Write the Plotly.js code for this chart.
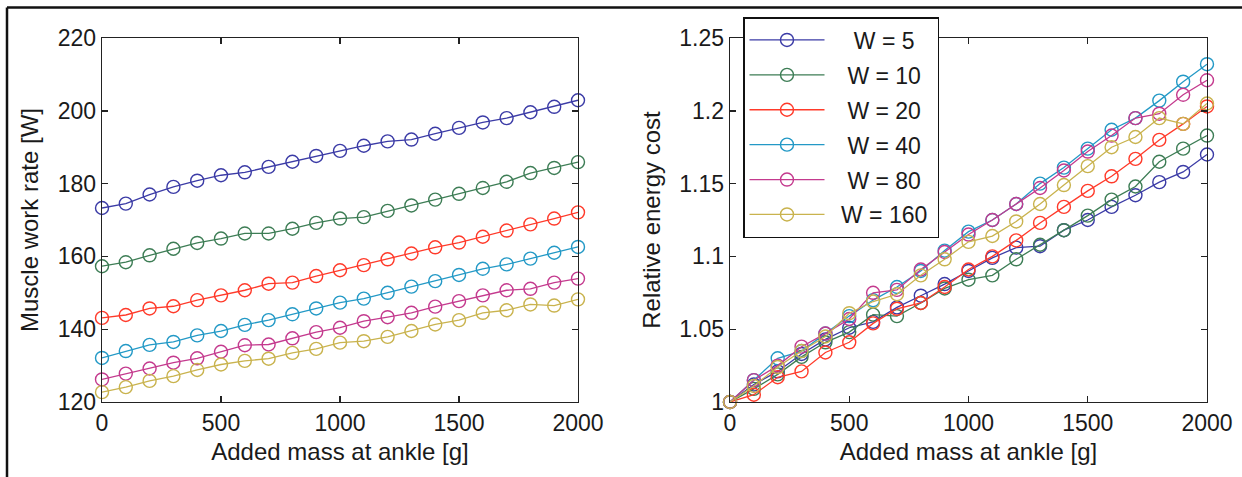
<!DOCTYPE html>
<html>
<head>
<meta charset="utf-8">
<script src="https://cdn.plot.ly/plotly-3.0.1.min.js"></script>
<style>
html,body{margin:0;padding:0;background:#fff;}
#chart{width:1242px;height:477px;}
</style>
</head>
<body>
<div id="chart"></div>
<script>
// ---- data ----
const addedMass = [0,100,200,300,400,500,600,700,800,900,1000,1100,1200,1300,1400,1500,1600,1700,1800,1900,2000];
const seriesNames = ['W = 5','W = 10','W = 20','W = 40','W = 80','W = 160'];
const legendLabels = ['\u2002\u2007W = 5\u2009','\u2002\u2008W = 10\u2009','\u2002\u2008W = 20\u2009','\u2002\u2008W = 40\u2009','\u2002\u2008W = 80\u2009','\u2002W = 160\u2009'];

// Muscle work rate [W]
const workW5   = [173.3,174.5,177.0,179.1,180.8,182.3,183.1,184.6,186.0,187.6,189.0,190.4,191.6,192.1,193.7,195.3,196.8,198.0,199.6,201.1,202.9];
const workW10  = [157.3,158.4,160.3,162.1,163.7,164.9,166.3,166.3,167.6,169.2,170.4,170.8,172.5,174.0,175.6,177.2,178.8,180.5,182.9,184.3,185.9];
const workW20  = [143.1,143.9,145.7,146.3,148.0,149.3,150.7,152.5,152.8,154.6,156.2,157.6,159.2,160.8,162.5,163.8,165.4,167.1,168.8,170.4,172.1];
const workW40  = [132.1,134.0,135.7,136.5,138.3,139.5,141.2,142.5,144.1,145.7,147.3,148.4,150.0,151.7,153.2,154.9,156.6,157.8,159.4,161.0,162.6];
const workW80  = [126.2,127.8,129.2,130.8,132.0,133.8,135.6,135.8,137.5,139.2,140.4,142.2,143.3,144.5,146.2,147.7,149.3,150.7,151.1,152.8,153.9];
const workW160 = [122.7,124.1,125.8,127.1,128.8,130.3,131.3,131.9,133.5,134.6,136.3,136.7,137.9,139.5,141.3,142.5,144.5,145.2,146.8,146.5,148.2];

// Relative energy cost
const costW5   = [1,1.012,1.021,1.033,1.043,1.051,1.055,1.065,1.073,1.081,1.090,1.099,1.106,1.107,1.118,1.125,1.134,1.142,1.151,1.158,1.170];
const costW10  = [1,1.009,1.019,1.031,1.041,1.048,1.060,1.059,1.068,1.078,1.084,1.087,1.098,1.108,1.118,1.128,1.139,1.148,1.165,1.174,1.183];
const costW20  = [1,1.005,1.017,1.021,1.034,1.041,1.054,1.064,1.068,1.079,1.091,1.100,1.111,1.123,1.134,1.145,1.155,1.167,1.180,1.191,1.203];
const costW40  = [1,1.015,1.030,1.035,1.047,1.059,1.070,1.079,1.090,1.104,1.117,1.125,1.136,1.150,1.161,1.174,1.187,1.195,1.207,1.220,1.232];
const costW80  = [1,1.015,1.025,1.038,1.047,1.057,1.075,1.077,1.091,1.103,1.115,1.125,1.136,1.147,1.159,1.172,1.183,1.195,1.198,1.211,1.221];
const costW160 = [1,1.011,1.024,1.035,1.045,1.061,1.069,1.074,1.087,1.098,1.110,1.114,1.124,1.136,1.149,1.162,1.175,1.182,1.195,1.191,1.205];

const workSeries = [workW5,workW10,workW20,workW40,workW80,workW160];
const costSeries = [costW5,costW10,costW20,costW40,costW80,costW160];
const colors = ['#3b3ba6','#3d7d55','#ff3a2a','#2399c6','#c43a8e','#c9b34e'];

// ---- traces ----
const traces = [];
workSeries.forEach((ys,i)=>{
  traces.push({
    x: addedMass, y: ys, xaxis:'x', yaxis:'y', type:'scatter', mode:'lines+markers',
    name: seriesNames[i], showlegend:false, cliponaxis:false,
    line:{color:colors[i], width:1.3},
    marker:{symbol:'circle-open', size:13, color:colors[i], line:{width:1.4, color:colors[i]}}
  });
});
costSeries.forEach((ys,i)=>{
  traces.push({
    x: addedMass, y: ys, xaxis:'x2', yaxis:'y2', type:'scatter', mode:'lines+markers',
    name: legendLabels[i], legendgroup:'g'+i, showlegend:true, cliponaxis:false,
    line:{color:colors[i], width:1.3},
    marker:{symbol:'circle-open', size:13, color:colors[i], line:{width:1.4, color:colors[i]}}
  });
});

const W = 1242, H = 477;
const font = {family:'"Liberation Sans", Arial, Helvetica, sans-serif', size:23, color:'#1a1a1a'};
const axisCommon = {
  showgrid:false, zeroline:false, showline:true, linecolor:'#222', linewidth:1.4,
  mirror:'ticks', ticks:'inside', ticklen:6, tickwidth:1.4, tickcolor:'#222',
  tickfont:{size:23}
};

const layout = {
  width:W, height:H,
  margin:{l:0,r:0,t:0,b:0},
  paper_bgcolor:'#fff', plot_bgcolor:'#fff',
  font: font,
  showlegend:true,
  xaxis: Object.assign({}, axisCommon, {
    domain:[102/W, 578/W], range:[0,2000], tickvals:[0,500,1000,1500,2000], anchor:'y',
    title:{text:'Added mass at ankle [g]', font:{size:24}, standoff:8}
  }),
  yaxis: Object.assign({}, axisCommon, {
    domain:[1-402/H, 1-38/H], range:[120,220], tickvals:[120,140,160,180,200,220], anchor:'x',
    title:{text:'Muscle work rate [W]', font:{size:24}, standoff:12}
  }),
  xaxis2: Object.assign({}, axisCommon, {
    domain:[730/W, 1207/W], range:[0,2000], tickvals:[0,500,1000,1500,2000], anchor:'y2',
    title:{text:'Added mass at ankle [g]', font:{size:24}, standoff:8}
  }),
  yaxis2: Object.assign({}, axisCommon, {
    domain:[1-402/H, 1-38/H], range:[1,1.25], tickvals:[1,1.05,1.1,1.15,1.2,1.25], anchor:'x2',
    title:{text:'Relative energy cost', font:{size:24}, standoff:12}
  }),
  legend:{
    x:743/W, y:1-17/H, xanchor:'left', yanchor:'top',
    bgcolor:'#fff', bordercolor:'#111', borderwidth:1.5,
    font:{size:23}, tracegroupgap:2, itemwidth:75
  },
  shapes:[
    {type:'line', xref:'paper', yref:'paper', x0:7/W, x1:1, y0:1-7.5/H, y1:1-7.5/H, line:{color:'#111', width:2.5}},
    {type:'line', xref:'paper', yref:'paper', x0:7/W, x1:7/W, y0:1-7.5/H, y1:0, line:{color:'#111', width:2.5}}
  ]
};

Plotly.newPlot('chart', traces, layout, {displayModeBar:false, staticPlot:true});
</script>
</body>
</html>
